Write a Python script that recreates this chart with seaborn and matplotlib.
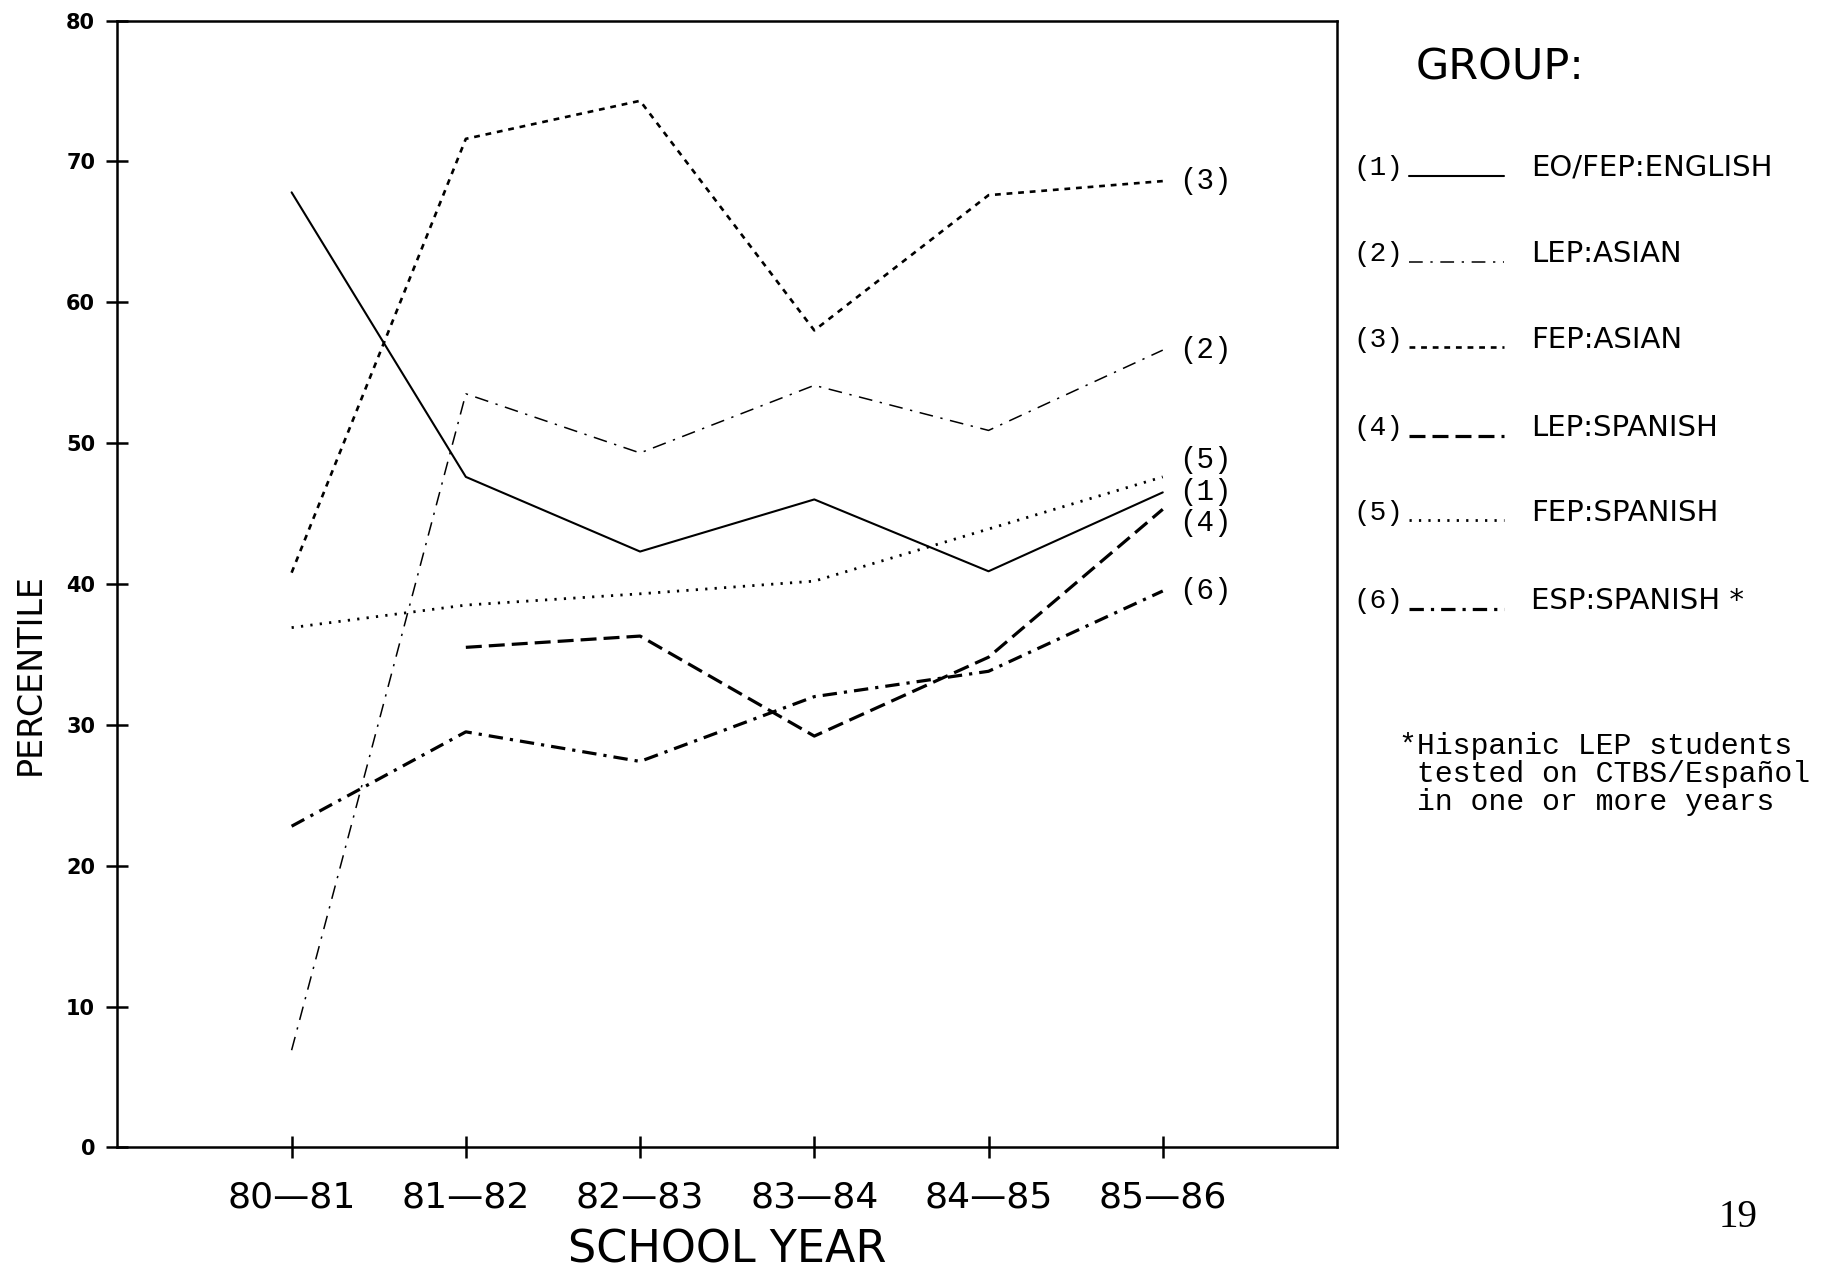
import numpy as np
import pandas as pd
import matplotlib.pyplot as plt
from matplotlib.lines import Line2D
import seaborn as sns

# data
years = ['80—81', '81—82', '82—83', '83—84', '84—85', '85—86']
eo_fep_english = [67.8, 47.6, 42.3, 46.0, 40.9, 46.5]
lep_asian = [6.9, 53.5, 49.3, 54.1, 50.9, 56.6]
fep_asian = [40.8, 71.6, 74.3, 58.0, 67.6, 68.6]
lep_spanish = [np.nan, 35.5, 36.3, 29.2, 34.8, 45.3]
fep_spanish = [36.9, 38.5, 39.3, 40.2, 43.9, 47.6]
esp_spanish = [22.8, 29.5, 27.4, 32.0, 33.8, 39.5]

groups = ['EO/FEP:ENGLISH', 'LEP:ASIAN', 'FEP:ASIAN', 'LEP:SPANISH', 'FEP:SPANISH', 'ESP:SPANISH']
series = [eo_fep_english, lep_asian, fep_asian, lep_spanish, fep_spanish, esp_spanish]

rows = []
for n, (g, vals) in enumerate(zip(groups, series)):
    for i, v in enumerate(vals):
        rows.append({'num': n + 1, 'group': g, 'pos': i, 'year': years[i], 'pct': v})
df = pd.DataFrame(rows).dropna()

# line style per group: (dashes, linewidth)
styles = {
    1: ('', 1.5),
    2: ((9, 5, 1.5, 5), 1.1),
    3: ((2.2, 2.2), 1.9),
    4: ((5, 2.2), 2.3),
    5: ((0.8, 2.6), 2.0),
    6: ((4.5, 2.2, 1, 2.2), 2.3),
}
label_nudge = {1: 0.0, 2: 0.0, 3: 0.0, 4: -1.0, 5: 1.2, 6: 0.0}

sns.set_style('white')
plt.rcParams['text.color'] = 'black'
plt.rcParams['axes.labelcolor'] = 'black'
plt.rcParams['xtick.color'] = 'black'
plt.rcParams['ytick.color'] = 'black'

fig = plt.figure(figsize=(18.34, 12.82), dpi=100)
ax = fig.add_axes([0.064, 0.105, 0.665, 0.879])

for n in range(1, 7):
    d = df[df['num'] == n]
    dash, lw = styles[n]
    sns.lineplot(data=d, x='pos', y='pct', ax=ax, color='black', linewidth=lw,
                 dashes=False, legend=False, estimator=None)
    line = ax.get_lines()[-1]
    if dash:
        line.set_dashes(dash)
    last = d.iloc[-1]
    ax.annotate('(%d)' % n, xy=(last['pos'], last['pct'] + label_nudge[n]),
                xytext=(12, 0), textcoords='offset points', va='center', ha='left',
                fontsize=21, family='Liberation Mono')

ax.set_xlim(-1, len(years))
ax.set_ylim(0, 80)
ax.set_xticks(range(len(years)))
ax.set_xticklabels(years, fontsize=26)
ax.set_yticks(range(0, 81, 10))
ax.set_yticklabels([str(v) for v in range(0, 81, 10)], fontsize=15, fontweight='bold')
ax.tick_params(axis='both', direction='inout', length=16, width=1.8, pad=8,
               bottom=True, left=True)
ax.tick_params(axis='x', pad=16)
for s in ax.spines.values():
    s.set_linewidth(1.8)
    s.set_color('black')
ax.set_xlabel('SCHOOL YEAR', fontsize=32, labelpad=10)
ax.set_ylabel('PERCENTILE', fontsize=24)
ax.yaxis.set_label_coords(-0.058, 0.42)

# legend drawn at the right of the plot
fig.text(0.772, 0.947, 'GROUP:', fontsize=31, va='center')
legend_y = [0.869, 0.802, 0.735, 0.666, 0.600, 0.531]
for n, g, y in zip(range(1, 7), groups, legend_y):
    fig.text(0.738, y, '(%d)' % n, fontsize=20, family='Liberation Mono', va='center')
    dash, lw = styles[n]
    ln = Line2D([0.768, 0.820], [y - 0.006, y - 0.006], transform=fig.transFigure,
                color='black', linewidth=lw)
    if dash:
        ln.set_dashes(dash)
    fig.add_artist(ln)
    fig.text(0.835, y, g + (' *' if n == 6 else ''), fontsize=21, va='center')

fig.text(0.763, 0.396, '*Hispanic LEP students\n tested on CTBS/Español\n in one or more years',
         fontsize=21.5, family='Liberation Mono', va='center', linespacing=1.0)
fig.text(0.937, 0.05, '19', fontsize=28, family='Liberation Serif', va='center')

fig.savefig('out.png', dpi=100)
